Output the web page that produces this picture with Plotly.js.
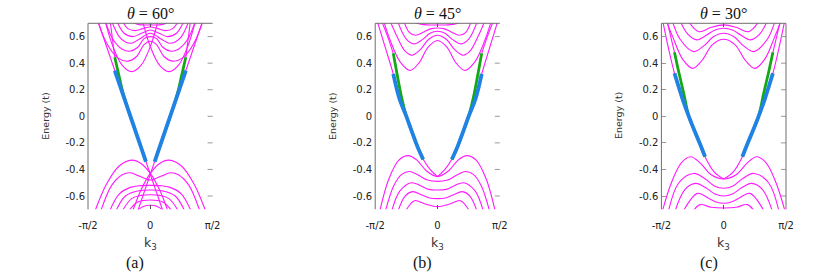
<!DOCTYPE html>
<html><head><meta charset="utf-8">
<script src="https://cdn.plot.ly/plotly-3.0.1.min.js"></script>
<style>html,body{margin:0;padding:0;background:#fff}#chart{width:830px;height:278px}</style>
</head><body><div id="chart"></div>
<script>
// ---- tick definitions ----
const X_TICKS = [-1, 0, 1];
const X_TICK_TEXT = ['-\u03c0/2', '0', '\u03c0/2'];
const Y_TICKS = [-0.6, -0.4, -0.2, 0, 0.2, 0.4, 0.6];
const Y_TICK_TEXT = ['-0.6', '-0.4', '-0.2', '0', '0.2', '0.4', '0.6'];
const TITLES = ['\u03b8 = 60\u00b0', '\u03b8 = 45\u00b0', '\u03b8 = 30\u00b0'];
const CAPTIONS = ['(a)', '(b)', '(c)'];

// ---- panel (a) theta = 60 : k in units of pi/2, energy in t ----
const A_C1L_K = [-0.75, -0.6, -0.45, -0.3, -0.15, 0, 0.12];
const A_C1L_E = [0.76, 0.525, 0.383, 0.336, 0.383, 0.525, 0.71];
const A_C1R_K = [-0.12, 0, 0.15, 0.3, 0.45, 0.6, 0.75];
const A_C1R_E = [0.71, 0.525, 0.383, 0.336, 0.383, 0.525, 0.76];
const A_C2_K = [-0.86, -0.7, -0.52, -0.36, -0.22, -0.1, 0, 0.1, 0.22, 0.36, 0.52, 0.7, 0.86];
const A_C2_E = [0.74, 0.55, 0.44, 0.415, 0.45, 0.54, 0.565, 0.54, 0.45, 0.415, 0.44, 0.55, 0.74];
const A_C3_K = [-0.74, -0.6, -0.45, -0.33, -0.2, -0.1, 0, 0.1, 0.2, 0.33, 0.45, 0.6, 0.74];
const A_C3_E = [0.74, 0.58, 0.505, 0.49, 0.52, 0.585, 0.6, 0.585, 0.52, 0.49, 0.505, 0.58, 0.74];
const A_C4_K = [-0.64, -0.5, -0.4, -0.3, -0.18, 0, 0.18, 0.3, 0.4, 0.5, 0.64];
const A_C4_E = [0.74, 0.6, 0.56, 0.55, 0.58, 0.625, 0.58, 0.55, 0.56, 0.6, 0.74];
const A_C5_K = [-0.56, -0.42, -0.28, -0.14, 0, 0.14, 0.28, 0.42, 0.56];
const A_C5_E = [0.74, 0.625, 0.6, 0.625, 0.65, 0.625, 0.6, 0.625, 0.74];
const A_C6_K = [-0.48, -0.36, -0.24, -0.12, 0, 0.12, 0.24, 0.36, 0.48];
const A_C6_E = [0.74, 0.66, 0.645, 0.66, 0.672, 0.66, 0.645, 0.66, 0.74];
const A_C7_K = [-0.34, -0.18, 0, 0.18, 0.34];
const A_C7_E = [0.72, 0.69, 0.688, 0.69, 0.72];
const A_V1L_K = [-0.88, -0.7, -0.5, -0.3, -0.15, 0, 0.15, 0.28];
const A_V1L_E = [-0.703, -0.508, -0.374, -0.33, -0.355, -0.43, -0.555, -0.71];
const A_V1R_K = [-0.28, -0.15, 0, 0.15, 0.3, 0.5, 0.7, 0.88];
const A_V1R_E = [-0.71, -0.555, -0.43, -0.355, -0.33, -0.374, -0.508, -0.703];
const A_V2_K = [-0.8, -0.62, -0.45, -0.32, -0.18, 0, 0.18, 0.32, 0.45, 0.62, 0.8];
const A_V2_E = [-0.72, -0.52, -0.44, -0.425, -0.45, -0.48, -0.45, -0.425, -0.44, -0.52, -0.72];
const A_V3_K = [-0.66, -0.5, -0.32, -0.16, 0, 0.16, 0.32, 0.5, 0.66];
const A_V3_E = [-0.72, -0.585, -0.535, -0.522, -0.52, -0.522, -0.535, -0.585, -0.72];
const A_V4_K = [-0.56, -0.4, -0.2, 0, 0.2, 0.4, 0.56];
const A_V4_E = [-0.72, -0.6, -0.562, -0.555, -0.562, -0.6, -0.72];
const A_V5_K = [-0.46, -0.3, -0.15, 0, 0.15, 0.3, 0.46];
const A_V5_E = [-0.72, -0.62, -0.595, -0.59, -0.595, -0.62, -0.72];
const A_V6_K = [-0.36, -0.2, 0, 0.2, 0.36];
const A_V6_E = [-0.72, -0.645, -0.63, -0.645, -0.72];
const A_V7_K = [-0.24, -0.12, 0, 0.12, 0.24];
const A_V7_E = [-0.72, -0.68, -0.67, -0.68, -0.72];
const A_EL_K = [-0.83, -0.57, -0.07, 0.2];
const A_EL_E = [0.70, 0.344, -0.341, -0.71];
const A_ER_K = [-0.2, 0.07, 0.57, 0.83];
const A_ER_E = [-0.71, -0.341, 0.344, 0.70];
const A_GXL_K = [-0.64, -0.57];
const A_GXL_E = [0.70, 0.444];
const A_GXR_K = [0.57, 0.64];
const A_GXR_E = [0.444, 0.70];
const A_GL_K = [-0.57, -0.50, -0.44, -0.38, -0.24, -0.07];
const A_GL_E = [0.444, 0.30, 0.18, 0.084, -0.108, -0.341];
const A_GR_K = [0.07, 0.24, 0.38, 0.44, 0.50, 0.57];
const A_GR_E = [-0.341, -0.108, 0.084, 0.18, 0.30, 0.444];
const A_BL_K = [-0.57, -0.07];
const A_BL_E = [0.344, -0.341];
const A_BR_K = [0.07, 0.57];
const A_BR_E = [-0.341, 0.344];

// ---- panel (b) theta = 45 ----
const B_C1_K = [-0.88, -0.75, -0.6, -0.44, -0.3, -0.15, 0, 0.15, 0.3, 0.44, 0.6, 0.75, 0.88];
const B_C1_E = [0.74, 0.56, 0.41, 0.345, 0.40, 0.52, 0.57, 0.52, 0.40, 0.345, 0.41, 0.56, 0.74];
const B_C2_K = [-0.78, -0.65, -0.52, -0.41, -0.28, -0.14, 0, 0.14, 0.28, 0.41, 0.52, 0.65, 0.78];
const B_C2_E = [0.74, 0.6, 0.49, 0.46, 0.50, 0.58, 0.61, 0.58, 0.50, 0.46, 0.49, 0.6, 0.74];
const B_C3_K = [-0.66, -0.5, -0.38, -0.25, -0.12, 0, 0.12, 0.25, 0.38, 0.5, 0.66];
const B_C3_E = [0.74, 0.58, 0.545, 0.575, 0.625, 0.64, 0.625, 0.575, 0.545, 0.58, 0.74];
const B_C4_K = [-0.56, -0.45, -0.35, -0.22, -0.1, 0, 0.1, 0.22, 0.35, 0.45, 0.56];
const B_C4_E = [0.74, 0.63, 0.61, 0.635, 0.66, 0.665, 0.66, 0.635, 0.61, 0.63, 0.74];
const B_C5_K = [-0.44, -0.25, 0, 0.25, 0.44];
const B_C5_E = [0.72, 0.692, 0.687, 0.692, 0.72];
const B_V1_K = [-0.93, -0.78, -0.62, -0.47, -0.33, -0.18, 0, 0.18, 0.33, 0.47, 0.62, 0.78, 0.93];
const B_V1_E = [-0.72, -0.47, -0.33, -0.296, -0.33, -0.41, -0.454, -0.41, -0.33, -0.296, -0.33, -0.47, -0.72];
const B_V2_K = [-0.84, -0.7, -0.57, -0.45, -0.32, -0.16, 0, 0.16, 0.32, 0.45, 0.57, 0.7, 0.84];
const B_V2_E = [-0.72, -0.52, -0.435, -0.415, -0.44, -0.48, -0.49, -0.48, -0.44, -0.415, -0.435, -0.52, -0.72];
const B_V3_K = [-0.74, -0.6, -0.42, -0.28, -0.14, 0, 0.14, 0.28, 0.42, 0.6, 0.74];
const B_V3_E = [-0.72, -0.56, -0.50, -0.52, -0.55, -0.555, -0.55, -0.52, -0.50, -0.56, -0.72];
const B_V4_K = [-0.64, -0.52, -0.4, -0.26, -0.13, 0, 0.13, 0.26, 0.4, 0.52, 0.64];
const B_V4_E = [-0.72, -0.6, -0.567, -0.59, -0.615, -0.62, -0.615, -0.59, -0.567, -0.6, -0.72];
const B_V5_K = [-0.52, -0.37, -0.2, 0, 0.2, 0.37, 0.52];
const B_V5_E = [-0.72, -0.635, -0.66, -0.68, -0.66, -0.635, -0.72];
const B_EL_K = [-0.97, -0.84, -0.71, -0.61, -0.5, -0.4, -0.32, -0.23, -0.12, 0];
const B_EL_E = [0.72, 0.52, 0.319, 0.13, 0.0, -0.13, -0.23, -0.324, -0.40, -0.454];
const B_ER_K = [0, 0.12, 0.23, 0.32, 0.4, 0.5, 0.61, 0.71, 0.84, 0.97];
const B_ER_E = [-0.454, -0.40, -0.324, -0.23, -0.13, 0.0, 0.13, 0.319, 0.52, 0.72];
const B_GXL_K = [-0.90, -0.80, -0.71];
const B_GXL_E = [0.72, 0.60, 0.474];
const B_GXR_K = [0.71, 0.80, 0.90];
const B_GXR_E = [0.474, 0.60, 0.72];
const B_GL_K = [-0.71, -0.65, -0.58, -0.50, -0.40, -0.32, -0.23];
const B_GL_E = [0.474, 0.32, 0.15, 0.0, -0.13, -0.23, -0.324];
const B_GR_K = [0.23, 0.32, 0.40, 0.50, 0.58, 0.65, 0.71];
const B_GR_E = [-0.324, -0.23, -0.13, 0.0, 0.15, 0.32, 0.474];
const B_BL_K = [-0.71, -0.61, -0.50, -0.40, -0.32, -0.23];
const B_BL_E = [0.319, 0.13, 0.0, -0.13, -0.23, -0.324];
const B_BR_K = [0.23, 0.32, 0.40, 0.50, 0.61, 0.71];
const B_BR_E = [-0.324, -0.23, -0.13, 0.0, 0.13, 0.319];

// ---- panel (c) theta = 30 ----
const C_C1_K = [-0.94, -0.82, -0.66, -0.5, -0.35, -0.18, 0, 0.18, 0.35, 0.5, 0.66, 0.82, 0.94];
const C_C1_E = [0.74, 0.6, 0.43, 0.361, 0.42, 0.54, 0.58, 0.54, 0.42, 0.361, 0.43, 0.6, 0.74];
const C_C2_K = [-0.84, -0.7, -0.48, -0.32, -0.16, 0, 0.16, 0.32, 0.48, 0.7, 0.84];
const C_C2_E = [0.74, 0.58, 0.487, 0.53, 0.6, 0.625, 0.6, 0.53, 0.487, 0.58, 0.74];
const C_C3_K = [-0.72, -0.58, -0.43, -0.28, -0.14, 0, 0.14, 0.28, 0.43, 0.58, 0.72];
const C_C3_E = [0.74, 0.62, 0.575, 0.61, 0.65, 0.663, 0.65, 0.61, 0.575, 0.62, 0.74];
const C_C4_K = [-0.6, -0.4, -0.2, 0, 0.2, 0.4, 0.6];
const C_C4_E = [0.74, 0.637, 0.67, 0.688, 0.67, 0.637, 0.74];
const C_V1_K = [-1.0, -0.84, -0.68, -0.53, -0.38, -0.2, 0, 0.2, 0.38, 0.53, 0.68, 0.84, 1.0];
const C_V1_E = [-0.74, -0.5, -0.35, -0.304, -0.35, -0.44, -0.472, -0.44, -0.35, -0.304, -0.35, -0.5, -0.74];
const C_V2_K = [-0.9, -0.72, -0.48, -0.3, -0.15, 0, 0.15, 0.3, 0.48, 0.72, 0.9];
const C_V2_E = [-0.74, -0.5, -0.43, -0.47, -0.525, -0.542, -0.525, -0.47, -0.43, -0.5, -0.74];
const C_V3_K = [-0.8, -0.62, -0.45, -0.28, -0.14, 0, 0.14, 0.28, 0.45, 0.62, 0.8];
const C_V3_E = [-0.74, -0.55, -0.505, -0.54, -0.585, -0.6, -0.585, -0.54, -0.505, -0.55, -0.74];
const C_V4_K = [-0.68, -0.42, -0.25, -0.12, 0, 0.12, 0.25, 0.42, 0.68];
const C_V4_E = [-0.74, -0.58, -0.615, -0.645, -0.655, -0.645, -0.615, -0.58, -0.74];
const C_V5_K = [-0.5, -0.38, -0.2, 0, 0.2, 0.38, 0.5];
const C_V5_E = [-0.72, -0.665, -0.685, -0.69, -0.685, -0.665, -0.72];
const C_EL_K = [-0.98, -0.89, -0.79, -0.66, -0.56, -0.45, -0.37, -0.30, -0.15, 0];
const C_EL_E = [0.72, 0.52, 0.324, 0.13, 0.0, -0.13, -0.22, -0.304, -0.42, -0.472];
const C_ER_K = [0, 0.15, 0.30, 0.37, 0.45, 0.56, 0.66, 0.79, 0.89, 0.98];
const C_ER_E = [-0.472, -0.42, -0.304, -0.22, -0.13, 0.0, 0.13, 0.324, 0.52, 0.72];
const C_GXL_K = [-0.91, -0.85, -0.79];
const C_GXL_E = [0.72, 0.6, 0.482];
const C_GXR_K = [0.79, 0.85, 0.91];
const C_GXR_E = [0.482, 0.6, 0.72];
const C_GL_K = [-0.79, -0.72, -0.64, -0.56, -0.45, -0.37, -0.30];
const C_GL_E = [0.482, 0.33, 0.17, 0.0, -0.13, -0.22, -0.304];
const C_GR_K = [0.30, 0.37, 0.45, 0.56, 0.64, 0.72, 0.79];
const C_GR_E = [-0.304, -0.22, -0.13, 0.0, 0.17, 0.33, 0.482];
const C_BL_K = [-0.79, -0.66, -0.56, -0.45, -0.37, -0.30];
const C_BL_E = [0.324, 0.13, 0.0, -0.13, -0.22, -0.304];
const C_BR_K = [0.30, 0.37, 0.45, 0.56, 0.66, 0.79];
const C_BR_E = [-0.304, -0.22, -0.13, 0.0, 0.13, 0.324];

// ---- styling ----
const MAGENTA = '#ff1aff', GREEN = '#14a814', BLUE = '#1f82e4';
const W = 830, H = 278;
const PLOT_TOP = 23.3, PLOT_BOT = 209.3;
const PANEL_CENTER = [150.3, 437.5, 723.7];
const HALF = 62.3;
const RIGHT_TICK_FRAC = 5 / (2 * HALF);

const panels = [
  { bands: [[A_C1L_K, A_C1L_E], [A_C1R_K, A_C1R_E], [A_C2_K, A_C2_E], [A_C3_K, A_C3_E], [A_C4_K, A_C4_E], [A_C5_K, A_C5_E], [A_C6_K, A_C6_E], [A_C7_K, A_C7_E],
            [A_V1L_K, A_V1L_E], [A_V1R_K, A_V1R_E], [A_V2_K, A_V2_E], [A_V3_K, A_V3_E], [A_V4_K, A_V4_E], [A_V5_K, A_V5_E], [A_V6_K, A_V6_E], [A_V7_K, A_V7_E]],
    edges: [[A_EL_K, A_EL_E], [A_ER_K, A_ER_E], [A_GXL_K, A_GXL_E], [A_GXR_K, A_GXR_E]],
    green: [[A_GL_K, A_GL_E], [A_GR_K, A_GR_E]], blue: [[A_BL_K, A_BL_E], [A_BR_K, A_BR_E]], edgeShape: 'linear' },
  { bands: [[B_C1_K, B_C1_E], [B_C2_K, B_C2_E], [B_C3_K, B_C3_E], [B_C4_K, B_C4_E], [B_C5_K, B_C5_E],
            [B_V1_K, B_V1_E], [B_V2_K, B_V2_E], [B_V3_K, B_V3_E], [B_V4_K, B_V4_E], [B_V5_K, B_V5_E]],
    edges: [[B_EL_K, B_EL_E], [B_ER_K, B_ER_E], [B_GXL_K, B_GXL_E], [B_GXR_K, B_GXR_E]],
    green: [[B_GL_K, B_GL_E], [B_GR_K, B_GR_E]], blue: [[B_BL_K, B_BL_E], [B_BR_K, B_BR_E]], edgeShape: 'spline' },
  { bands: [[C_C1_K, C_C1_E], [C_C2_K, C_C2_E], [C_C3_K, C_C3_E], [C_C4_K, C_C4_E],
            [C_V1_K, C_V1_E], [C_V2_K, C_V2_E], [C_V3_K, C_V3_E], [C_V4_K, C_V4_E], [C_V5_K, C_V5_E]],
    edges: [[C_EL_K, C_EL_E], [C_ER_K, C_ER_E], [C_GXL_K, C_GXL_E], [C_GXR_K, C_GXR_E]],
    green: [[C_GL_K, C_GL_E], [C_GR_K, C_GR_E]], blue: [[C_BL_K, C_BL_E], [C_BR_K, C_BR_E]], edgeShape: 'spline' }
];

const traces = [];
const layout = {
  width: W, height: H, margin: { l: 0, r: 0, t: 0, b: 0 },
  paper_bgcolor: '#fff', plot_bgcolor: 'rgba(0,0,0,0)', showlegend: false,
  font: { family: 'DejaVu Sans, sans-serif', size: 10, color: '#222' },
  shapes: [], annotations: []
};
const yDom = [(H - PLOT_BOT) / H, (H - PLOT_TOP) / H];

panels.forEach((p, i) => {
  const n = i + 1;
  const xa = n === 1 ? 'x' : 'x' + n;
  const ya = n === 1 ? 'y' : 'y' + n;
  const add = (k, e, color, width, shape) => traces.push({
    type: 'scatter', mode: 'lines', x: k, y: e, xaxis: xa, yaxis: ya,
    line: { color: color, width: width, shape: shape, smoothing: 1 }, hoverinfo: 'skip'
  });
  p.bands.forEach(b => add(b[0], b[1], MAGENTA, 1.1, 'spline'));
  p.edges.forEach(b => add(b[0], b[1], MAGENTA, 1.1, p.edgeShape));
  p.green.forEach(b => add(b[0], b[1], GREEN, 2.8, 'spline'));
  p.blue.forEach(b => add(b[0], b[1], BLUE, 3.8, p.edgeShape));

  const c = PANEL_CENTER[i];
  const xDom = [(c - HALF) / W, (c + HALF) / W];
  const xKey = n === 1 ? 'xaxis' : 'xaxis' + n;
  const yKey = n === 1 ? 'yaxis' : 'yaxis' + n;
  layout[xKey] = {
    domain: xDom, anchor: ya, range: [-1, 1], tickvals: X_TICKS, ticktext: X_TICK_TEXT,
    ticks: 'inside', ticklen: 4, tickcolor: '#555', mirror: 'ticks', showline: false,
    showgrid: false, zeroline: false, ticklabelstandoff: 9,
    tickfont: { family: 'DejaVu Sans, sans-serif', size: 10, color: '#222' }, fixedrange: true
  };
  layout[yKey] = {
    domain: yDom, anchor: xa, range: [-0.7, 0.7], tickvals: Y_TICKS, ticktext: Y_TICK_TEXT,
    ticks: n === 3 ? 'inside' : '', ticklen: 5, tickcolor: '#999', showline: false,
    showgrid: false, zeroline: false, ticklabelstandoff: 2,
    tickfont: { family: 'DejaVu Sans, sans-serif', size: 10, color: '#222' }, fixedrange: true
  };
  // right-side tick marks at the same tick values
  Y_TICKS.forEach(v => layout.shapes.push({ type: 'line', xref: xa + ' domain', yref: ya,
    x0: 1 - RIGHT_TICK_FRAC, x1: 1, y0: v, y1: v, line: { color: '#999', width: 1 } }));
  const frame = { color: '#6e6e6e', width: 1 };
  layout.shapes.push({ type: 'line', xref: xa + ' domain', yref: ya + ' domain', x0: 0, x1: 1, y0: 1, y1: 1, line: frame });
  layout.shapes.push({ type: 'line', xref: xa + ' domain', yref: ya + ' domain', x0: 0, x1: 0, y0: 0, y1: 1, line: frame });
  if (n === 3) layout.shapes.push({ type: 'line', xref: xa + ' domain', yref: ya + ' domain', x0: 1, x1: 1, y0: 0, y1: 1, line: frame });

  // title
  layout.annotations.push({ xref: 'paper', yref: 'paper', x: c / W, y: 1 - 13 / H, xanchor: 'center', yanchor: 'middle',
    text: '<i>\u03b8</i>' + TITLES[i].slice(1), showarrow: false,
    font: { family: 'Liberation Serif, Times New Roman, serif', size: 16, color: '#111' } });
  // y title
  layout.annotations.push({ xref: 'paper', yref: 'paper', x: (c - HALF - 43.3) / W, y: 1 - 116 / H, xanchor: 'center', yanchor: 'middle',
    text: 'Energy (t)', textangle: -90, showarrow: false,
    font: { family: 'DejaVu Sans, sans-serif', size: 9.5, color: '#333' } });
  // x title
  layout.annotations.push({ xref: 'paper', yref: 'paper', x: c / W, y: 1 - 243 / H, xanchor: 'center', yanchor: 'middle',
    text: 'k<sub>3</sub>', showarrow: false,
    font: { family: 'DejaVu Sans, sans-serif', size: 12.5, color: '#333' } });
  // caption
  layout.annotations.push({ xref: 'paper', yref: 'paper', x: (c - 15) / W, y: 1 - 263 / H, xanchor: 'center', yanchor: 'middle',
    text: CAPTIONS[i], showarrow: false,
    font: { family: 'Liberation Serif, Times New Roman, serif', size: 16, color: '#111' } });
});

Plotly.newPlot('chart', traces, layout, { displayModeBar: false, staticPlot: true });
</script></body></html>
